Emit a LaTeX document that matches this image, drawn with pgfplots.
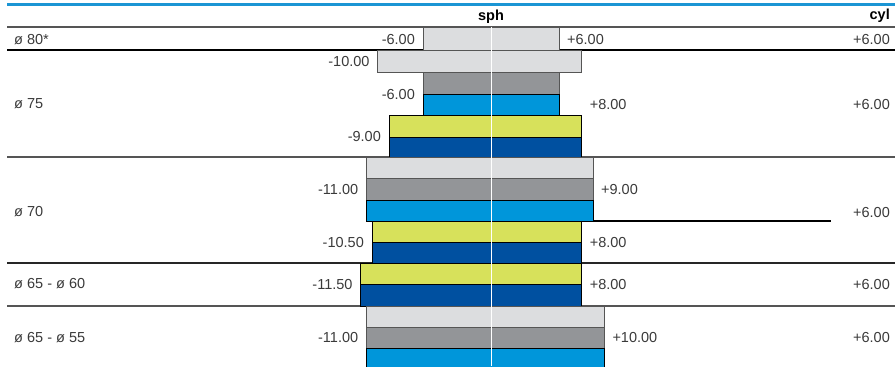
\documentclass[border=0pt]{standalone}
\usepackage{pgfplots}
\pgfplotsset{compat=1.18}
\usepackage{fontspec}
\setmainfont{Liberation Sans}

\definecolor{lgray}{HTML}{DCDDDF}
\definecolor{mgray}{HTML}{939598}
\definecolor{cyanb}{HTML}{0096DA}
\definecolor{lime}{HTML}{D7E15B}
\definecolor{navy}{HTML}{0050A0}
\definecolor{topblue}{HTML}{1B95D4}
\definecolor{txt}{HTML}{3A3A3A}
\definecolor{rule}{HTML}{555555}

% #1 fill, #2 outline, #3 sph min, #4 sph max, #5 top, #6 bottom
\newcommand{\rangebar}[6]{%
  \addplot[fill=#1, draw=#2, line width=0.9bp]
    coordinates {(#3,#5) (#4,#5) (#4,#6) (#3,#6)} -- cycle;}

\begin{document}
\begin{tikzpicture}[font=\fontsize{14.5bp}{16bp}\selectfont,
  lab/.style={text=txt, inner sep=0pt},
  lft/.style={lab, anchor=east, xshift=-8bp},
  rgt/.style={lab, anchor=west, xshift=8bp}]
\begin{axis}[
  scale only axis,
  width=895bp, height=366bp,
  xmin=-43.34, xmax=35.66,
  ymin=0, ymax=366, y dir=reverse,
  hide axis,
]
% row rules
\draw[topblue, line width=2.5bp] (axis cs:-42.7,4.5) -- (axis cs:35.66,4.5);
\draw[rule, line width=2bp] (axis cs:-42.7,27.5) -- (axis cs:35.66,27.5);
\draw[black, line width=1.2bp] (axis cs:-42.7,50) -- (axis cs:35.66,50);
\draw[rule, line width=1.8bp] (axis cs:-42.7,157) -- (axis cs:35.66,157);
\draw[black, line width=1.2bp] (axis cs:9,221) -- (axis cs:30,221);
\draw[black!85, line width=1.5bp] (axis cs:-42.7,263) -- (axis cs:35.66,263);
\draw[rule, line width=1.8bp] (axis cs:-42.7,306) -- (axis cs:35.66,306);

% o 80*
\rangebar{lgray}{rule}{-6}{6}{27.5}{50}
% o 75
\rangebar{lgray}{rule}{-10}{8}{50}{72.5}
\rangebar{mgray}{rule}{-6}{6}{72.5}{94}
\rangebar{cyanb}{black}{-6}{6}{94}{115.5}
\rangebar{lime}{black}{-9}{8}{115.5}{137}
\rangebar{navy}{black}{-9}{8}{137}{157}
% o 70
\rangebar{lgray}{rule}{-11}{9}{157}{178.5}
\rangebar{mgray}{rule}{-11}{9}{178.5}{200}
\rangebar{cyanb}{black}{-11}{9}{200}{221}
\rangebar{lime}{black}{-10.5}{8}{221}{242}
\rangebar{navy}{black}{-10.5}{8}{242}{263}
% o 65 - o 60
\rangebar{lime}{black}{-11.5}{8}{263}{284.5}
\rangebar{navy}{black}{-11.5}{8}{284.5}{306}
% o 65 - o 55
\rangebar{lgray}{rule}{-11}{10}{306}{327}
\rangebar{mgray}{rule}{-11}{10}{327}{348.5}
\rangebar{cyanb}{black}{-11}{10}{348.5}{372}

% centre line
\addplot[white, line width=1bp] coordinates {(0,27.5) (0,366)};

% header
\node[lab, text=black, font=\fontsize{14.5bp}{16bp}\selectfont\bfseries] at (axis cs:0,17) {sph};
\node[lab, text=black, anchor=east, font=\fontsize{14.5bp}{16bp}\selectfont\bfseries] at (axis cs:35.22,16) {cyl};

% row names
\node[lab, anchor=west] at (axis cs:-42.1,40) {ø 80*};
\node[lab, anchor=west] at (axis cs:-42.1,104) {ø 75};
\node[lab, anchor=west] at (axis cs:-42.1,212) {ø 70};
\node[lab, anchor=west] at (axis cs:-42.1,284) {ø 65 - ø 60};
\node[lab, anchor=west] at (axis cs:-42.1,338) {ø 65 - ø 55};

% sph limits
\node[lft] at (axis cs:-6,40) {-6.00};
\node[rgt] at (axis cs:6,40) {+6.00};
\node[lft] at (axis cs:-10,62) {-10.00};
\node[lft] at (axis cs:-6,95) {-6.00};
\node[rgt] at (axis cs:8,105) {+8.00};
\node[lft] at (axis cs:-9,137) {-9.00};
\node[lft] at (axis cs:-11,190) {-11.00};
\node[rgt] at (axis cs:9,190) {+9.00};
\node[lft] at (axis cs:-10.5,243) {-10.50};
\node[rgt] at (axis cs:8,243) {+8.00};
\node[lft] at (axis cs:-11.5,285) {-11.50};
\node[rgt] at (axis cs:8,285) {+8.00};
\node[lft] at (axis cs:-11,338) {-11.00};
\node[rgt] at (axis cs:10,338) {+10.00};

% cyl
\node[lab, anchor=east] at (axis cs:35.22,40) {+6.00};
\node[lab, anchor=east] at (axis cs:35.22,105) {+6.00};
\node[lab, anchor=east] at (axis cs:35.22,213) {+6.00};
\node[lab, anchor=east] at (axis cs:35.22,285) {+6.00};
\node[lab, anchor=east] at (axis cs:35.22,338) {+6.00};
\end{axis}
\pgfresetboundingbox
\useasboundingbox (current axis.south west) rectangle (current axis.north east);
\end{tikzpicture}
\end{document}
